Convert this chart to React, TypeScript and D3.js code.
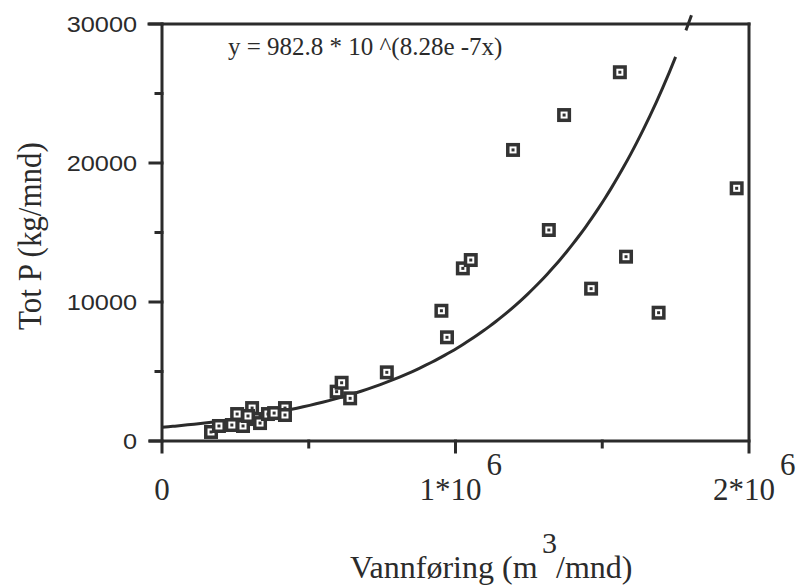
import React from "react";
import * as d3 from "d3";

// Vannføring (m3/mnd)
const flow: number[] = [
  167000, 194000, 238000, 276000, 256000, 307000, 317000, 334000, 361000,
  382000, 419000, 419000, 293000,
  595000, 612000, 641000, 766000,
  952000, 971000, 1025000, 1052000, 1196000, 1318000, 1370000, 1462000,
  1560000, 1581000, 1692000, 1958000,
];
// Tot P (kg/mnd)
const totP: number[] = [
  650, 1080, 1150, 1080, 1940, 2370, 1580, 1290, 1940,
  2010, 2370, 1870, 1800,
  3550, 4190, 3070, 4940,
  9370, 7460, 12420, 13020, 20940, 15180, 23450, 10960,
  26530, 13260, 9230, 18180,
];

const fitA = 982.8;
const fitB = 8.28e-7;
const fitRanges: [number, number][] = [
  [0, 1750000],
  [1785000, 1804000],
];

const yTicksMajor = [0, 10000, 20000, 30000];
const yTicksMinor = [5000, 15000, 25000];
const xTicksMajor = [1000000];
const xTicksMinor = [500000, 1500000];
const xTickLabels: { v: number; base: string; sup: string }[] = [
  { v: 0, base: "0", sup: "" },
  { v: 1000000, base: "1*10", sup: "6" },
  { v: 2000000, base: "2*10", sup: "6" },
];

const INK = "#2b2b2b";
const SERIF = "'Liberation Serif', 'Times New Roman', serif";
const SANS = "'Liberation Sans', Arial, sans-serif";

function SText(props: {
  x: number;
  y: number;
  anchor?: string;
  size: number;
  family: string;
  children: React.ReactNode;
  rotate?: number;
  sx?: number;
}) {
  const { x, y, anchor = "start", size, family, children, rotate = 0, sx = 1 } = props;
  return (
    <text
      transform={`translate(${x},${y}) scale(${sx},1) rotate(${rotate})`}
      textAnchor={anchor}
      fontSize={size}
      fontFamily={family}
      fill={INK}
    >
      {children}
    </text>
  );
}

export default function App() {
  const W = 797;
  const H = 587;
  const x = d3.scaleLinear().domain([0, 2000000]).range([162, 749]);
  const y = d3.scaleLinear().domain([0, 30000]).range([441, 24]);
  const x0 = x(0);
  const x1 = x(2000000);
  const y0 = y(0);
  const y1 = y(30000);

  const line = d3
    .line<number>()
    .x((d) => x(d))
    .y((d) => y(fitA * Math.pow(10, fitB * d)))
    .curve(d3.curveMonotoneX);

  const curvePaths = fitRanges.map(([a, b]) => {
    const n = 80;
    const pts = d3.range(n + 1).map((i) => a + ((b - a) * i) / n);
    return line(pts) || "";
  });

  const pts = flow.map((f, i) => ({ f, p: totP[i] }));

  return (
    <svg
      width={W}
      height={H}
      style={{ position: "absolute", left: 0, top: 0, background: "#fff" }}
    >
      <rect x={0} y={0} width={W} height={H} fill="#fff" />
      {/* frame */}
      <g stroke={INK} strokeWidth={3} fill="none" strokeLinecap="square">
        <line x1={x0} y1={y1} x2={x0} y2={y0 + 11} />
        <line x1={x0 - 12} y1={y0} x2={x1} y2={y0} />
        <line x1={x0 - 13} y1={y1} x2={x1} y2={y1} />
        <line x1={x1} y1={y1} x2={x1} y2={y0 + 11} />
        {yTicksMajor.map((t) => (
          <line key={"ym" + t} x1={x0 - 12} y1={y(t)} x2={x0} y2={y(t)} />
        ))}
        {yTicksMinor.map((t) => (
          <line key={"yn" + t} x1={x0 - 6} y1={y(t)} x2={x0} y2={y(t)} />
        ))}
        {xTicksMajor.map((t) => (
          <line key={"xm" + t} x1={x(t)} y1={y0} x2={x(t)} y2={y0 + 11} />
        ))}
        {xTicksMinor.map((t) => (
          <line key={"xn" + t} x1={x(t)} y1={y0} x2={x(t)} y2={y0 + 6} />
        ))}
      </g>

      {/* fit curve */}
      {curvePaths.map((d, i) => (
        <path key={i} d={d} fill="none" stroke={INK} strokeWidth={3} />
      ))}

      {/* markers */}
      {pts.map((d, i) => (
        <g key={i} transform={`translate(${x(d.f)},${y(d.p)})`}>
          <rect x={-7} y={-7} width={14} height={14} fill="#333" />
          <rect x={-3.5} y={-3.5} width={7} height={7} fill="#fff" />
          <rect x={-1.5} y={-1.5} width={3} height={3} fill="#333" />
        </g>
      ))}

      {/* y tick labels */}
      {yTicksMajor.map((t) => (
        <SText key={"yl" + t} x={137} y={y(t) + 8} anchor="end" size={22} sx={1.15} family={SANS}>
          {t}
        </SText>
      ))}

      {/* x tick labels */}
      {xTickLabels.map((t) => (
        <g key={"xl" + t.v}>
          <SText x={x(t.v) + (t.sup ? -5 : 0)} y={500} anchor="middle" size={31} family={SERIF}>
            {t.base}
          </SText>
          {t.sup && (
            <SText x={x(t.v) + 31} y={475} anchor="start" size={31} family={SERIF}>
              {t.sup}
            </SText>
          )}
        </g>
      ))}

      {/* equation */}
      <SText x={228} y={55} size={25} family={SERIF}>
        y = 982.8 * 10 ^(8.28e -7x)
      </SText>

      {/* x title */}
      <SText x={350} y={578} size={32} family={SERIF}>
        Vannføring (m
      </SText>
      <SText x={542} y={553} size={30} family={SERIF}>
        3
      </SText>
      <SText x={556} y={578} size={32} family={SERIF}>
        /mnd)
      </SText>

      {/* y title */}
      <SText x={41} y={236} anchor="middle" size={31} sx={1.1} family={SERIF} rotate={-90}>
        Tot P (kg/mnd)
      </SText>
    </svg>
  );
}
